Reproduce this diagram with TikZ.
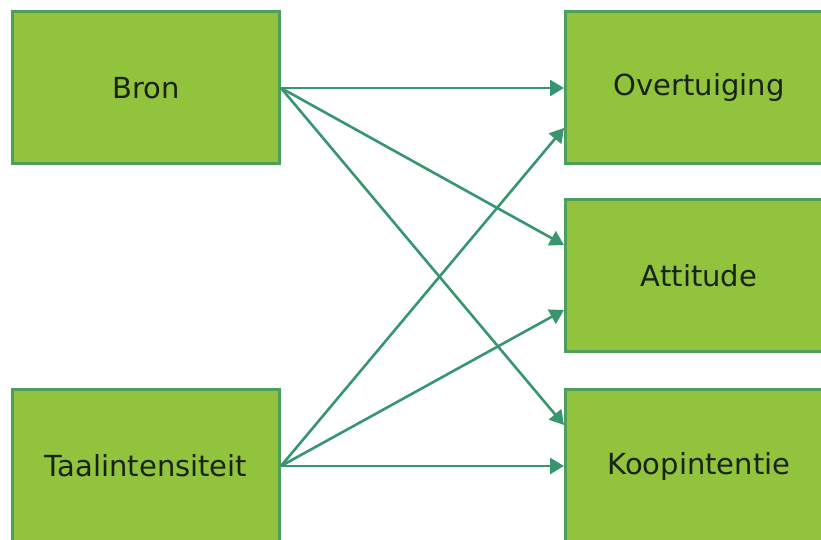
\documentclass[tikz,border=0pt]{standalone}
\usepackage{fontspec}
\setmainfont{DejaVu Sans}
\usetikzlibrary{arrows.meta}
\definecolor{boxgreen}{RGB}{146,195,60}
\definecolor{boxedge}{RGB}{78,158,92}
\definecolor{arrowgreen}{RGB}{55,150,110}
\definecolor{textdark}{RGB}{25,35,20}
\begin{document}
\begin{tikzpicture}[x=0.5pt,y=-0.5pt,>={Triangle[length=7pt,width=8pt]}]
\tikzstyle{block} = [
 draw=boxedge,
 fill=boxgreen,
 line width=1.5pt,
 minimum height=76pt,
 minimum width=133.5pt,
 text=textdark,
 font=\fontsize{14.5}{17}\selectfont
]
\tikzstyle{link} = [draw=arrowgreen, line width=1.3pt]
\clip (0,0) rectangle (821,540);
\fill[white] (0,0) rectangle (821,540);
\node[block] at (146,88)  (b) {Bron};
\node[block] at (146,466) (t) {Taalintensiteit};
\node[block] at (699,88)  (o) {Overtuiging};
\node[block] at (699,276) (a) {Attitude};
\node[block] at (699,466) (k) {Koopintentie};

\path[link,->] (b.east) -- (o.west);
\path[link,->] (b.east) -- ([yshift=15.5pt]a.west);
\path[link,->] (b.east) -- ([yshift=20.5pt]k.west);
\path[link,->] (t.east) -- ([yshift=-20pt]o.west);
\path[link,->] (t.east) -- ([yshift=-17pt]a.west);
\path[link,->] (t.east) -- (k.west);
\end{tikzpicture}
\end{document}
